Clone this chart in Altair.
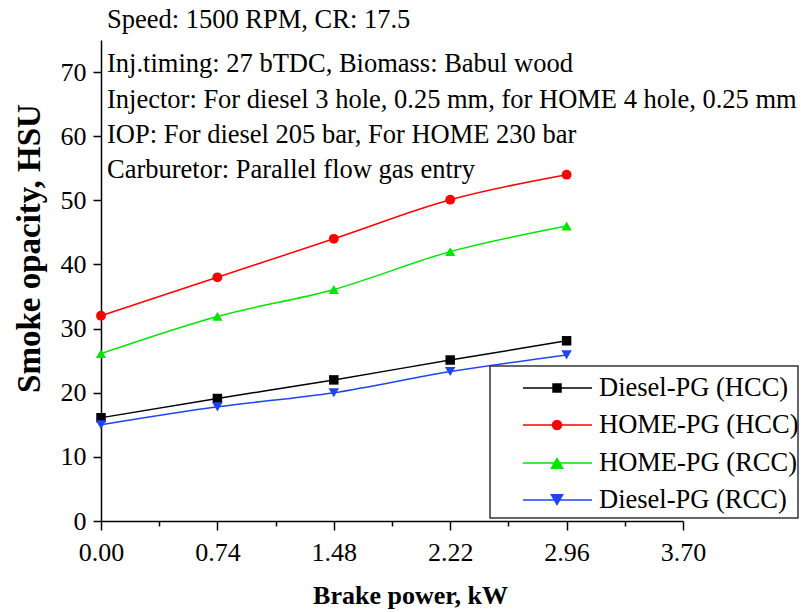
import altair as alt
import pandas as pd

# ---------------- data ----------------
brake_power = [0.00, 0.74, 1.48, 2.22, 2.96]
series_names = ["Diesel-PG (HCC)", "HOME-PG (HCC)", "HOME-PG (RCC)", "Diesel-PG (RCC)"]
diesel_hcc = [16.1, 19.1, 22.0, 25.1, 28.1]
home_hcc = [32.0, 38.0, 44.0, 50.1, 54.0]
home_rcc = [26.1, 31.9, 36.1, 42.0, 46.0]
diesel_rcc = [15.0, 17.8, 20.0, 23.3, 25.9]
series_values = [diesel_hcc, home_hcc, home_rcc, diesel_rcc]
colors = ["#000000", "#ff0000", "#00e600", "#1f45ee"]
shapes = ["square", "circle", "triangle-up", "triangle-down"]
sizes = [90, 110, 190, 190]

x_major = [0.0, 0.74, 1.48, 2.22, 2.96, 3.7]
y_major = [0, 10, 20, 30, 40, 50, 60, 70]
annotation_lines = [
    "Speed: 1500 RPM, CR: 17.5",
    "Inj.timing: 27 bTDC, Biomass: Babul wood",
    "Injector: For diesel 3 hole, 0.25 mm, for HOME 4 hole, 0.25 mm",
    "IOP: For diesel 205 bar, For HOME 230 bar",
    "Carburetor: Parallel flow gas entry",
]

# ---------------- layout constants ----------------
W, H = 582, 481
FONT = "Liberation Serif"
x_all = [round(i * 0.37, 2) for i in range(11)]
y_all = list(range(0, 80, 5))

rows = []
for name, vals in zip(series_names, series_values):
    for bp, v in zip(brake_power, vals):
        rows.append({"bp": bp, "smoke": v, "series": name})
df = pd.DataFrame(rows)

major_x_js = "[" + ",".join(str(v) for v in x_major) + "]"

x_enc = alt.X(
    "bp:Q",
    scale=alt.Scale(domain=[0, 3.7], nice=False, zero=False),
    axis=alt.Axis(
        values=x_all,
        labelExpr=f"indexof({major_x_js}, datum.value) >= 0 ? format(datum.value, '.2f') : ''",
        tickSize={"condition": {"test": f"indexof({major_x_js}, datum.value) >= 0", "value": 9}, "value": 5},
        title="Brake power, kW",
        titleX=309,
        titleY=74,
        titleBaseline="middle",
        labelPadding=9,
        labelFlush=False,
        labelOverlap=False,
        grid=False,
    ),
)
y_enc = alt.Y(
    "smoke:Q",
    scale=alt.Scale(domain=[0, 75], nice=False, zero=True),
    axis=alt.Axis(
        values=y_all,
        labelExpr="datum.value % 10 === 0 ? datum.label : ''",
        tickSize={"condition": {"test": "datum.value % 10 === 0", "value": 8}, "value": 4},
        title="Smoke opacity, HSU",
        titleX=-72,
        titleY=208,
        titleAngle=270,
        titleBaseline="middle",
        titleAlign="center",
        titleFontSize=33,
        labelPadding=7,
        labelFlush=False,
        labelOverlap=False,
        grid=False,
    ),
)
color_enc = alt.Color("series:N", scale=alt.Scale(domain=series_names, range=colors), legend=None)
shape_enc = alt.Shape("series:N", scale=alt.Scale(domain=series_names, range=shapes), legend=None)
size_enc = alt.Size("series:N", scale=alt.Scale(domain=series_names, range=sizes), legend=None)

base = alt.Chart(df)
lines = base.mark_line(interpolate="monotone", strokeWidth=1.5).encode(
    x=x_enc, y=y_enc, color=color_enc, detail="series:N"
)
points = base.mark_point(filled=True, opacity=1).encode(
    x="bp:Q", y="smoke:Q", color=color_enc, shape=shape_enc, size=size_enc
)

layers = [lines, points]

# annotation text block
ann_y = [-20, 24, 60, 95, 130]
for txt, yy in zip(annotation_lines, ann_y):
    layers.append(
        alt.Chart(pd.DataFrame({"t": [txt]}))
        .mark_text(align="left", baseline="middle", font=FONT, fontSize=26.5, color="black")
        .encode(x=alt.value(6), y=alt.value(yy), text="t:N")
    )

# legend box
layers.append(
    alt.Chart(pd.DataFrame({"a": [0]}))
    .mark_rect(fill="white", stroke="#333333", strokeWidth=1.5)
    .encode(x=alt.value(389), x2=alt.value(697), y=alt.value(326), y2=alt.value(478))
)
leg_y = [348, 385, 423, 460]
for name, col, shp, sz, yy in zip(series_names, colors, shapes, sizes, leg_y):
    one = alt.Chart(pd.DataFrame({"t": [name]}))
    layers.append(
        one.mark_rule(color=col, strokeWidth=1.5).encode(
            x=alt.value(422), x2=alt.value(491), y=alt.value(yy)
        )
    )
    layers.append(
        one.mark_point(filled=True, opacity=1, shape=shp, size=sz, color=col).encode(
            x=alt.value(456), y=alt.value(yy)
        )
    )
    layers.append(
        one.mark_text(align="left", baseline="middle", font=FONT, fontSize=26.5, color="black").encode(
            x=alt.value(498), y=alt.value(yy), text="t:N"
        )
    )

chart = (
    alt.layer(*layers)
    .properties(
        width=W,
        height=H,
        autosize=alt.AutoSizeParams(type="none"),
        padding={"left": 101, "top": 40, "right": 120, "bottom": 91},
        background="white",
    )
    .configure_view(stroke=None)
    .configure_axis(
        labelFont=FONT,
        labelFontSize=26,
        labelColor="black",
        titleFont=FONT,
        titleFontSize=26,
        titleFontWeight="bold",
        titleColor="black",
        domainColor="black",
        domainWidth=1.5,
        tickColor="black",
        tickWidth=1.5,
    )
)

chart.save("out.html", embed_options={"renderer": "svg", "actions": False})
